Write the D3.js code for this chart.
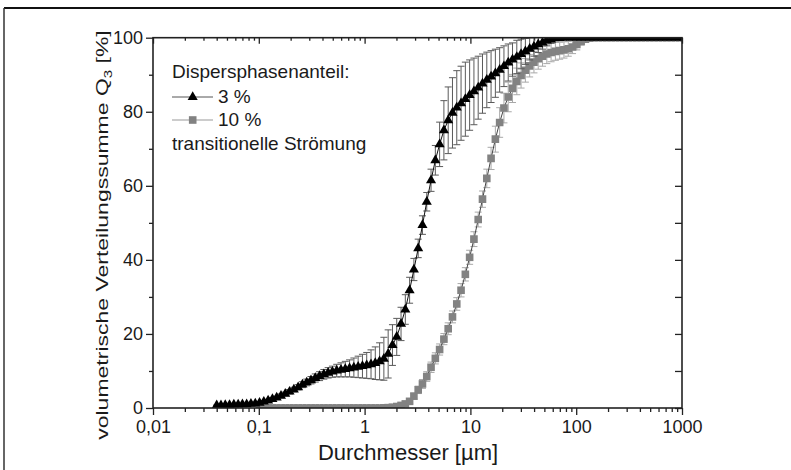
<!DOCTYPE html>
<html>
<head>
<meta charset="utf-8">
<script src="https://cdn.jsdelivr.net/npm/d3@7"></script>
<style>
  html, body { margin: 0; padding: 0; background: #fff; }
  svg { display: block; }
  text { font-family: "Liberation Sans", Arial, sans-serif; fill: #1a1a1a; }
</style>
</head>
<body>
<svg id="chart" width="791" height="470"></svg>
<script>
// ---------- data ----------
const diameters = [0.04,0.0439,0.0482,0.0529,0.0581,0.0638,0.07,0.0768,0.0843,0.0926,
  0.1016,0.1116,0.1225,0.1345,0.1476,0.1621,0.1779,0.1953,0.2144,0.2354,
  0.2584,0.2837,0.3114,0.3419,0.3753,0.412,0.4523,0.4965,0.5451,0.5984,
  0.6569,0.7212,0.7917,0.8691,0.9541,1.047,1.15,1.262,1.386,1.521,
  1.67,1.834,2.013,2.21,2.426,2.663,2.924,3.21,3.523,3.868,
  4.246,4.662,5.117,5.618,6.167,6.77,7.433,8.16,8.958,9.834,
  10.8,11.85,13.01,14.29,15.68,17.22,18.9,20.75,22.78,25.01,
  27.45,30.14,33.09,36.32,39.88,43.78,48.06,52.76,57.92,63.59,
  69.81,76.64,84.14,92.37,101.4,111.3,122.2,134.2,147.3,161.7,
  177.5,194.9,213.9,234.9,257.8,283.1,310.8,341.2,374.5,411.1,
  451.4,495.5,544,597.2,655.6,719.7,790.1,867.4,952.3,1045];

// Q3 for 3 % dispersed phase
const q3Series3 = [0.7,0.7,0.8,0.8,0.9,0.9,1.0,1.0,1.1,1.2,
  1.4,1.7,2.0,2.4,2.8,3.3,3.8,4.4,5.0,5.6,
  6.3,6.9,7.5,8.1,8.6,9.1,9.5,9.8,10.1,10.3,
  10.5,10.7,10.9,11.1,11.3,11.5,11.8,12.1,12.6,13.3,
  14.6,17.0,19.2,22.7,26.6,31.8,37.4,43.1,49.4,55.7,
  61.5,66.9,71.2,75.0,77.7,79.7,81.1,82.3,83.4,84.5,
  85.5,86.5,87.6,88.6,89.5,90.4,91.3,92.3,93.3,94.1,
  94.8,95.6,96.3,97.0,97.6,98.2,98.7,99.2,99.5,99.8,
  99.9,100,100,100,100,100,100,100,100,100,
  100,100,100,100,100,100,100,100,100,100,
  100,100,100,100,100,100,100,100,100,100];
const err3 = [0.1,0.1,0.1,0.1,0.1,0.1,0.1,0.1,0.2,0.2,
  0.2,0.3,0.3,0.4,0.4,0.5,0.5,0.6,0.6,0.7,
  0.8,0.9,1.0,1.1,1.2,1.3,1.4,1.5,1.7,1.9,
  2.1,2.3,2.6,2.9,3.2,3.5,3.9,4.4,5.0,5.8,
  6.5,5.5,5.0,4.5,4.0,3.5,3.0,2.5,2.5,2.5,
  3.0,4.0,6.0,8.0,9.0,9.5,10.0,10.0,10.0,9.5,
  9.0,8.5,8.0,7.5,7.0,6.5,6.0,5.5,5.0,4.5,
  4.5,4.0,3.5,3.0,2.6,2.2,1.8,1.4,1.0,0.6,
  0.3,0.1,0,0,0,0,0,0,0,0,
  0,0,0,0,0,0,0,0,0,0,
  0,0,0,0,0,0,0,0,0,0];

// Q3 for 10 % dispersed phase
const q3Series10 = [null,null,null,null,null,null,null,null,null,null,
  0,0,0,0,0,0,0,0,0,0,
  0,0,0,0,0,0,0,0,0,0,
  0,0,0,0,0,0,0,0,0,0.05,
  0.1,0.2,0.4,0.7,1.1,1.8,3.2,4.9,6.5,8.5,
  11.0,13.4,15.8,18.6,21.4,24.6,28.1,31.8,36.1,40.7,
  45.6,50.9,56.4,62.0,67.4,72.6,77.1,81.0,84.0,86.3,
  88.2,89.8,91.2,92.4,93.4,94.3,95.0,95.6,96.0,96.3,
  96.5,96.7,97.0,97.5,98.2,99.0,99.6,99.9,100,100,
  100,100,100,100,100,100,100,100,100,100,
  100,100,100,100,100,100,100,100,100,100];
const err10 = [0,0,0,0,0,0,0,0,0,0,
  0,0,0,0,0,0,0,0,0,0,
  0,0,0,0,0,0,0,0,0,0,
  0,0,0,0,0,0,0,0,0,0,
  0,0.2,0.3,0.4,0.5,0.6,0.8,1.0,1.2,1.3,
  1.4,1.5,1.5,1.5,1.6,1.6,1.7,1.8,1.8,1.9,
  2.0,2.0,2.2,2.5,3.0,3.5,4.0,4.0,4.0,3.8,
  3.6,3.4,3.2,3.0,2.9,2.8,2.7,2.6,2.5,2.4,
  2.3,2.2,2.0,1.8,1.5,1.0,0.5,0.2,0,0,
  0,0,0,0,0,0,0,0,0,0,
  0,0,0,0,0,0,0,0,0,0];

const xMajorTicks = [0.01, 0.1, 1, 10, 100, 1000];
const xTickLabels = ["0,01", "0,1", "1", "10", "100", "1000"];
const yMajorTicks = [0, 20, 40, 60, 80, 100];
const yMinorTicks = [10, 30, 50, 70, 90];
const legendTitle = "Dispersphasenanteil:";
const legendLabels = ["3 %", "10 %"];
const legendNote = "transitionelle Strömung";
const xTitle = "Durchmesser [µm]";

// ---------- layout ----------
const svg = d3.select("#chart");
const L = 153, R = 682, T = 37.7, B = 408;
const x = d3.scaleLog().domain([0.01, 1000]).range([L, R]);
const y = d3.scaleLinear().domain([0, 100]).range([B, T]);

// outer frame (top and left border of the figure)
svg.append("line").attr("x1", 4).attr("x2", 791).attr("y1", 8).attr("y2", 8)
  .attr("stroke", "#111").attr("stroke-width", 2);
svg.append("line").attr("x1", 4).attr("x2", 4).attr("y1", 8).attr("y2", 470)
  .attr("stroke", "#333").attr("stroke-width", 1.5);

svg.append("clipPath").attr("id", "plotclip").append("rect")
  .attr("x", L).attr("y", T).attr("width", R - L).attr("height", B - T);

// minor log ticks
const xMinor = [];
for (let e = -2; e < 3; e++) for (let m = 2; m <= 9; m++) xMinor.push(m * Math.pow(10, e));

function styleAxis(g) {
  g.select(".domain").remove();
  g.selectAll(".tick line").attr("stroke", "#222").attr("stroke-width", 1.3);
  g.selectAll(".tick text").attr("font-size", 18).attr("fill", "#1a1a1a")
    .attr("font-family", "'Liberation Sans', Arial, sans-serif");
}

// bottom axis (outward ticks)
svg.append("g").attr("transform", `translate(0,${B})`)
  .call(d3.axisBottom(x).tickValues(xMinor).tickSize(4).tickFormat(""))
  .call(styleAxis);
svg.append("g").attr("transform", `translate(0,${B})`)
  .call(d3.axisBottom(x).tickValues(xMajorTicks).tickSize(7).tickPadding(5)
    .tickFormat((d, i) => xTickLabels[i]))
  .call(styleAxis);
// top axis (inward ticks)
svg.append("g").attr("transform", `translate(0,${T})`)
  .call(d3.axisTop(x).tickValues(xMinor).tickSize(-3).tickFormat(""))
  .call(styleAxis);
svg.append("g").attr("transform", `translate(0,${T})`)
  .call(d3.axisTop(x).tickValues(xMajorTicks).tickSize(-6).tickFormat(""))
  .call(styleAxis);
// left axis (outward)
svg.append("g").attr("transform", `translate(${L},0)`)
  .call(d3.axisLeft(y).tickValues(yMinorTicks).tickSize(4).tickFormat(""))
  .call(styleAxis);
svg.append("g").attr("transform", `translate(${L},0)`)
  .call(d3.axisLeft(y).tickValues(yMajorTicks).tickSize(7).tickPadding(3).tickFormat(d3.format("d")))
  .call(styleAxis);
// right axis (inward)
svg.append("g").attr("transform", `translate(${R},0)`)
  .call(d3.axisRight(y).tickValues(yMajorTicks.concat(yMinorTicks)).tickSize(-7).tickFormat(""))
  .call(styleAxis);

// ---------- series ----------
const plot = svg.append("g").attr("clip-path", "url(#plotclip)");

function drawSeries(vals, errs, opt) {
  const pts = diameters.map((d, i) => ({ d, v: vals[i], e: errs[i] })).filter(p => p.v != null);
  const eg = plot.append("g").attr("stroke", opt.errColor).attr("stroke-width", 1).attr("fill", "none");
  pts.filter(p => p.e > 0).forEach(p => {
    const cx = x(p.d), y1 = y(p.v - p.e), y2 = y(p.v + p.e);
    eg.append("line").attr("x1", cx).attr("x2", cx).attr("y1", y1).attr("y2", y2);
    eg.append("line").attr("x1", cx - 3.5).attr("x2", cx + 3.5).attr("y1", y1).attr("y2", y1);
    eg.append("line").attr("x1", cx - 3.5).attr("x2", cx + 3.5).attr("y1", y2).attr("y2", y2);
  });
  plot.append("path").datum(pts)
    .attr("fill", "none").attr("stroke", opt.lineColor).attr("stroke-width", 1)
    .attr("d", d3.line().x(p => x(p.d)).y(p => y(p.v)));
  plot.append("g").selectAll("path").data(pts).join("path")
    .attr("transform", p => `translate(${x(p.d)},${y(p.v)})`)
    .attr("d", opt.symbol)
    .attr("fill", opt.fill);
}

const triSym = d3.symbol().type(d3.symbolTriangle).size(44)();
const sqSym = d3.symbol().type(d3.symbolSquare).size(58)();

drawSeries(q3Series10, err10, { errColor: "#a8a8a8", lineColor: "#444", fill: "#828282", symbol: sqSym });
drawSeries(q3Series3, err3, { errColor: "#5a5a5a", lineColor: "#111", fill: "#000", symbol: triSym });

// plot box
svg.append("rect").attr("x", L).attr("y", T).attr("width", R - L).attr("height", B - T)
  .attr("fill", "none").attr("stroke", "#222").attr("stroke-width", 1.6);

// ---------- legend ----------
const lg = svg.append("g");
lg.append("text").attr("x", 172).attr("y", 78).attr("font-size", 19).text(legendTitle);
const legendItems = [
  { label: legendLabels[0], sym: triSym, fill: "#000", line: "#555", y: 97 },
  { label: legendLabels[1], sym: sqSym, fill: "#828282", line: "#999", y: 120 }
];
legendItems.forEach(it => {
  lg.append("line").attr("x1", 172).attr("x2", 213).attr("y1", it.y).attr("y2", it.y)
    .attr("stroke", it.line).attr("stroke-width", 1);
  lg.append("path").attr("d", it.sym).attr("fill", it.fill)
    .attr("transform", `translate(192.7,${it.y})`);
  lg.append("text").attr("x", 218).attr("y", it.y + 6).attr("font-size", 19).text(it.label);
});
lg.append("text").attr("x", 172).attr("y", 150).attr("font-size", 19).text(legendNote);

// ---------- axis titles ----------
svg.append("text").attr("x", 408).attr("y", 460).attr("text-anchor", "middle")
  .attr("font-size", 22).text(xTitle);

const yt = svg.append("text").attr("text-anchor", "middle").attr("font-size", 23)
  .attr("transform", "translate(108,235) rotate(-90) scale(1,0.72)");
yt.append("tspan").text("volumetrische Verteilungssumme Q");
yt.append("tspan").attr("font-size", 15).attr("dy", 5).text("3");
yt.append("tspan").attr("dy", -5).text(" [%]");
</script>
</body>
</html>
